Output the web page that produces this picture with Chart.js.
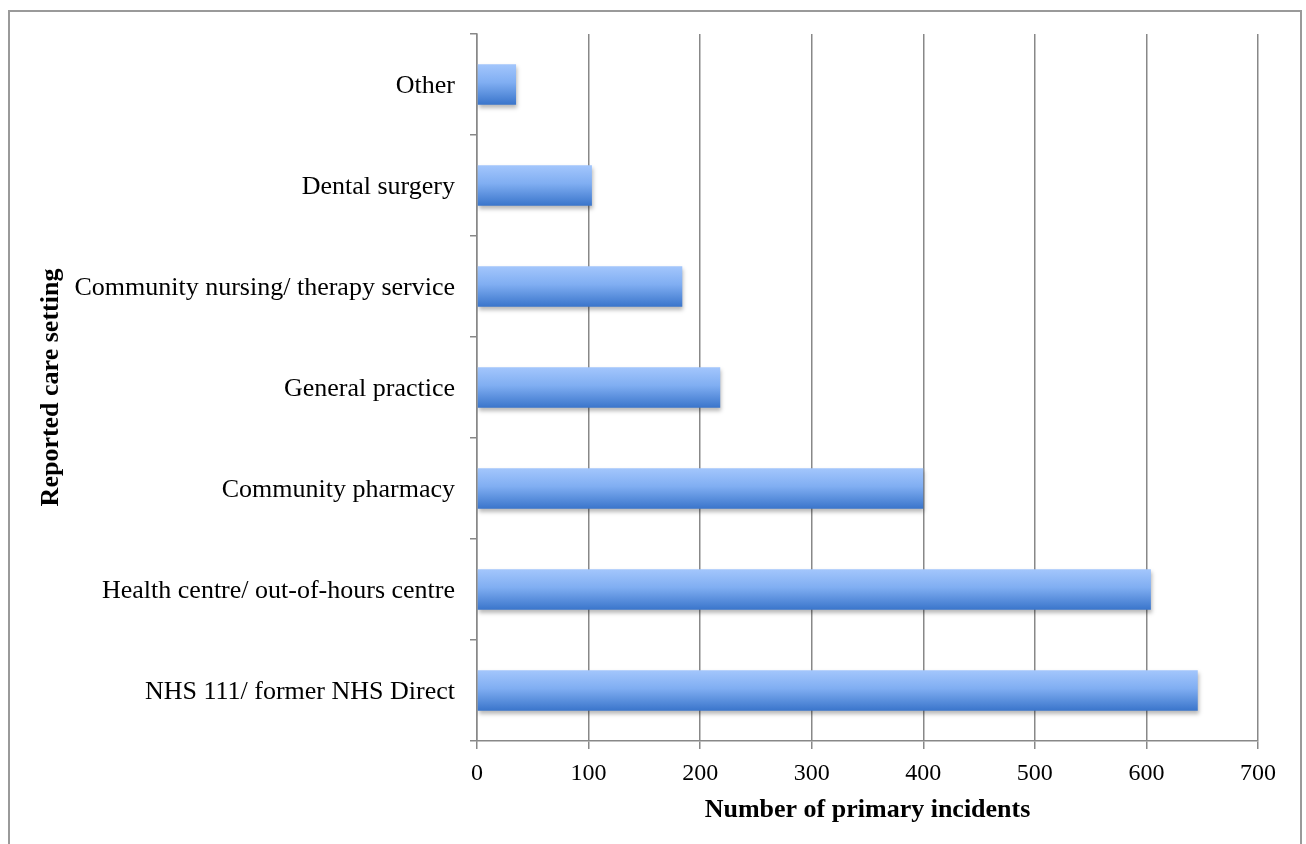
<!DOCTYPE html>
<html>
<head>
<meta charset="utf-8">
<script src="https://cdn.jsdelivr.net/npm/chart.js@4.4.1/dist/chart.umd.min.js"></script>
<style>
  html, body { margin: 0; padding: 0; background: #fff; }
  #wrap { width: 1306px; height: 844px; position: relative; }
</style>
</head>
<body>
<div id="wrap"><canvas id="chart" width="1306" height="844"></canvas></div>
<script>
// dados do grafico
const categorias = [
    'Other',
    'Dental surgery',
    'Community nursing/ therapy service',
    'General practice',
    'Community pharmacy',
    'Health centre/ out-of-hours centre',
    'NHS 111/ former NHS Direct'
];
const incidentes = [35, 103, 184, 218, 400, 604, 646];
const eixoX = { min: 0, max: 700, passo: 100 };
const tituloX = 'Number of primary incidents';
const tituloY = 'Reported care setting';

const cinza = '#888888';
const fonte = '"Liberation Serif", "Times New Roman", serif';

// gradiente vertical de cada barra
function corBarra(ctx) {
    const chart = ctx.chart;
    const s = chart.scales && chart.scales.y;
    if (!chart.chartArea || !s || ctx.dataIndex === undefined) return '#6f9fe8';
    const centro = s.getPixelForValue(ctx.dataIndex);
    const passo = categorias.length > 1 ? Math.abs(s.getPixelForValue(1) - s.getPixelForValue(0)) : 100;
    const meia = passo * 0.4 / 2;
    const g = chart.ctx.createLinearGradient(0, centro - meia, 0, centro + meia);
    g.addColorStop(0, '#a3c6fc');
    g.addColorStop(0.45, '#80aef2');
    g.addColorStop(1, '#3a75cb');
    return g;
}

const molduraPlugin = {
    id: 'moldura',
    beforeDraw(chart) {
        const c = chart.ctx;
        c.save();
        c.strokeStyle = '#9a9a9a';
        c.lineWidth = 2;
        c.strokeRect(9, 11, 1292, 900);
        c.restore();
    },
    beforeDatasetsDraw(chart) {
        const c = chart.ctx;
        c.save();
        c.shadowColor = 'rgba(0,0,0,0.28)';
        c.shadowBlur = 4;
        c.shadowOffsetY = 3;
        c.shadowOffsetX = 1;
    },
    afterDatasetsDraw(chart) {
        chart.ctx.restore();
    }
};

new Chart(document.getElementById('chart'), {
    type: 'bar',
    data: {
        labels: categorias,
        datasets: [{
            data: incidentes,
            backgroundColor: corBarra,
            borderWidth: 0,
            categoryPercentage: 1,
            barPercentage: 0.4
        }]
    },
    options: {
        indexAxis: 'y',
        responsive: false,
        animation: false,
        layout: { padding: { top: 34, right: 48, left: 0, bottom: 0 } },
        plugins: {
            legend: { display: false },
            tooltip: { enabled: false }
        },
        scales: {
            x: {
                min: eixoX.min,
                max: eixoX.max,
                afterFit: (scale) => { scale.height = 103; },
                ticks: {
                    stepSize: eixoX.passo,
                    color: '#000',
                    padding: 10,
                    font: { family: fonte, size: 24 }
                },
                grid: { color: cinza, lineWidth: 1.5, tickLength: 8 },
                border: { color: cinza, width: 1.5 },
                title: {
                    display: true,
                    text: tituloX,
                    color: '#000',
                    padding: { top: 0, bottom: 18 },
                    font: { family: fonte, size: 26, weight: 'bold' }
                }
            },
            y: {
                afterFit: (scale) => { scale.width = 477; },
                ticks: {
                    color: '#000',
                    padding: 15,
                    labelOffset: 2,
                    font: { family: fonte, size: 26 }
                },
                grid: { color: cinza, lineWidth: 1.5, tickLength: 7, drawOnChartArea: false, offset: true },
                border: { color: cinza, width: 1.5 },
                title: {
                    display: true,
                    text: tituloY,
                    color: '#000',
                    padding: { top: 36, bottom: 0 },
                    font: { family: fonte, size: 26, weight: 'bold' }
                }
            }
        }
    },
    plugins: [molduraPlugin]
});
</script>
</body>
</html>
